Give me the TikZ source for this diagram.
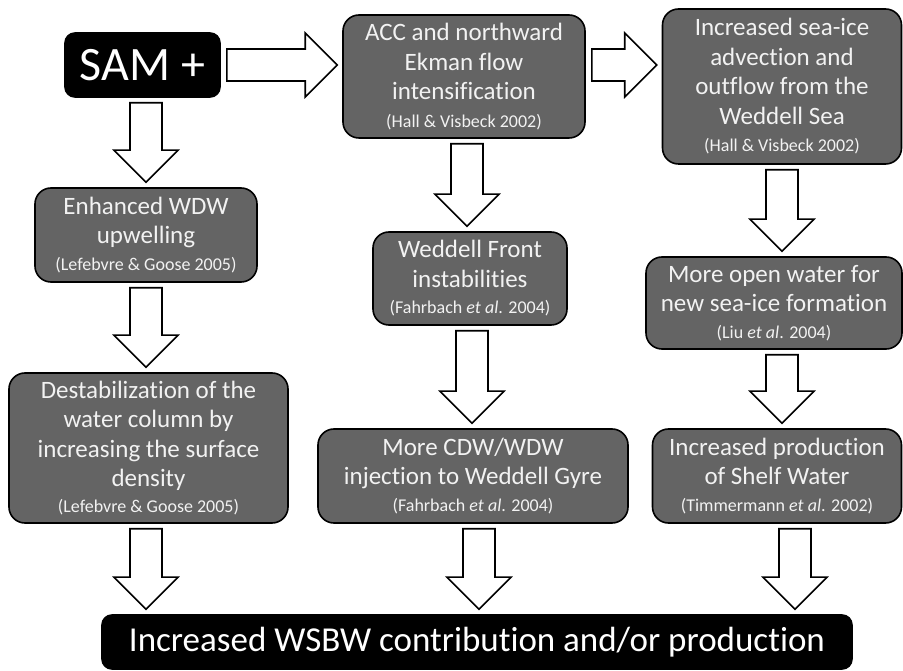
\documentclass[tikz,border=0pt]{standalone}
\usepackage{fontspec}
\setmainfont{Carlito}[Ligatures={NoCommon}]
\usepackage{tikz}
\usetikzlibrary{calc}

\definecolor{boxgray}{RGB}{100,100,100}
\definecolor{boxtext}{RGB}{242,242,242}

\newcommand{\reffont}{\fontsize{18}{26}\selectfont}

\tikzset{
  graybox/.style={draw=black, line width=1.6pt, fill=boxgray, rounded corners=16pt,
    text=boxtext, align=center, inner sep=0pt, font=\fontsize{25}{29.5}\selectfont},
  blackbox/.style={draw=black, line width=1.6pt, fill=black, rounded corners=10pt,
    text=white, align=center, inner sep=0pt},
  blockarrow/.style={draw=black, line width=1.6pt, fill=white, line join=miter}
}

% fat arrow pointing down, at x = #1, from node #2 to node #3
\newcommand{\downblock}[3]{%
  \draw[blockarrow] let \p1 = (#2.south), \p2 = (#3.north) in
    (#1pt-16pt,\y1-5pt) -- (#1pt+16pt,\y1-5pt) -- (#1pt+16pt,\y2+37pt)
    -- (#1pt+32pt,\y2+37pt) -- (#1pt,\y2+5pt) -- (#1pt-32pt,\y2+37pt)
    -- (#1pt-16pt,\y2+37pt) -- cycle;}

% fat arrow pointing right, at y = #1, from node #2 to node #3
\newcommand{\rightblock}[3]{%
  \draw[blockarrow] let \p1 = (#2.east), \p2 = (#3.west) in
    (\x1+6pt,#1pt+16pt) -- (\x2-37pt,#1pt+16pt) -- (\x2-37pt,#1pt+32pt)
    -- (\x2-5pt,#1pt) -- (\x2-37pt,#1pt-32pt) -- (\x2-37pt,#1pt-16pt)
    -- (\x1+6pt,#1pt-16pt) -- cycle;}

\begin{document}
\begin{tikzpicture}[x=1pt,y=1pt]
\useasboundingbox (0,0) rectangle (903,670);

\node[blackbox, minimum width=155, minimum height=64, font=\fontsize{48}{50}\selectfont] (sam) at (142.5,605) {SAM +};
\node[graybox, minimum width=242, minimum height=123] (acc) at (464,593.5)
  {ACC and northward\\ Ekman flow\\ intensification\\[-2pt] {\reffont (Hall \& Visbeck 2002)}};
\node[graybox, minimum width=239, minimum height=155] (seaice) at (782,583.5)
  {Increased sea-ice\\ advection and\\ outflow from the\\ Weddell Sea\\[-2pt] {\reffont (Hall \& Visbeck 2002)}};

\node[graybox, minimum width=222, minimum height=94] (wdw) at (146,435)
  {Enhanced WDW\\ upwelling\\[-3pt] {\reffont (Lefebvre \& Goose 2005)}};
\node[graybox, minimum width=194, minimum height=93] (front) at (470,391.5)
  {Weddell Front\\ instabilities\\[-3pt] {\reffont (Fahrbach \textit{et al}. 2004)}};
\node[graybox, minimum width=256, minimum height=92] (openw) at (774,367)
  {More open water for\\ new sea-ice formation\\[-3pt] {\reffont (Liu \textit{et al}. 2004)}};

\node[graybox, minimum width=279, minimum height=150] (destab) at (148.5,222)
  {Destabilization of the\\ water column by\\ increasing the surface\\ density\\[-4pt] {\reffont (Lefebvre \& Goose 2005)}};
\node[graybox, minimum width=310, minimum height=94] (cdw) at (473,194)
  {More CDW/WDW\\ injection to Weddell Gyre\\[-3pt] {\reffont (Fahrbach \textit{et al}. 2004)}};
\node[graybox, minimum width=249, minimum height=94] (shelf) at (777,194)
  {Increased production\\ of Shelf Water\\[-3pt] {\reffont (Timmermann \textit{et al}. 2002)}};

\node[blackbox, minimum width=750, minimum height=54, font=\fontsize{35}{40}\selectfont] (wsbw) at (477,28)
  {Increased WSBW contribution and/or production};

% arrows
\rightblock{605}{sam}{acc}
\rightblock{605}{acc}{seaice}
\downblock{146}{sam}{wdw}
\downblock{146}{wdw}{destab}
\downblock{146}{destab}{wsbw}
\downblock{467}{acc}{front}
\downblock{472}{front}{cdw}
\downblock{479}{cdw}{wsbw}
\downblock{782}{seaice}{openw}
\downblock{782}{openw}{shelf}
\downblock{795}{shelf}{wsbw}
\end{tikzpicture}
\end{document}
